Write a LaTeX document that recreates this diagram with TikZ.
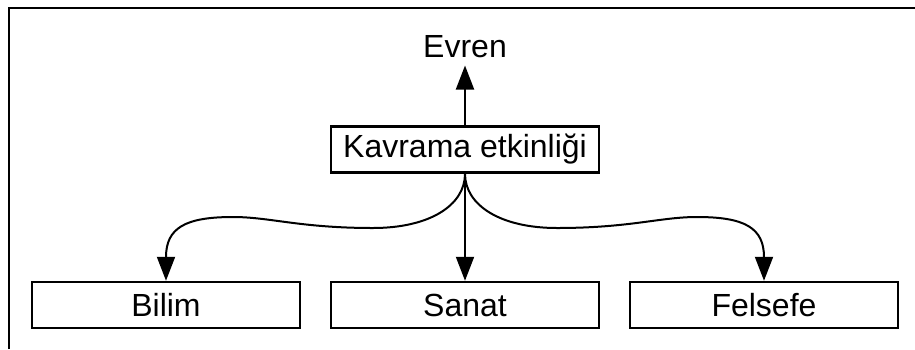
\documentclass[tikz,border=0pt]{standalone}
\usepackage{fontspec}
\setmainfont{Liberation Sans}
\usetikzlibrary{arrows.meta, positioning}
\tikzset{
    box/.style={
        draw,
        line width=2.5pt,
        minimum width=268pt,
        minimum height=46pt,
        inner sep=0pt,
        font=\fontsize{32}{38}\selectfont
    },
    plain/.style={inner sep=0pt, font=\fontsize{32}{38}\selectfont},
    every edge/.style={
        draw,
        -{Triangle[length=24pt,width=18pt]},
        line width=2pt
    },
    curved/.style={-{Triangle[length=24pt,width=18pt]}, line width=2pt}
}

\begin{document}
\begin{tikzpicture}[x=1pt,y=-1pt]
	\useasboundingbox (0,0) rectangle (915,349);
	\draw[line width=2.5pt] (9,349) -- (9,8) -- (915,8);
	\node[box] at (465,149.5) (kav) {Kavrama etkinliği};
	\node[plain,anchor=base] at (465,57) (evren) {Evren};
	\node[box] at (166,305) (bilim) {Bilim};
	\node[box] at (465,305) (sanat) {Sanat};
	\node[box] at (764,305) (felsefe) {Felsefe};
	\draw
	(kav) edge[shorten >=8pt] (evren)
	(kav) edge (sanat);
	\draw[curved] (kav.south) .. controls (465,205) and (430,228) .. (373,228)
		.. controls (300,228) and (270,217) .. (233,217)
		.. controls (185,217) and (166,228) .. (bilim.north);
	\draw[curved] (kav.south) .. controls (465,205) and (500,228) .. (557,228)
		.. controls (630,228) and (660,217) .. (697,217)
		.. controls (745,217) and (764,228) .. (felsefe.north);
\end{tikzpicture}
\end{document}
